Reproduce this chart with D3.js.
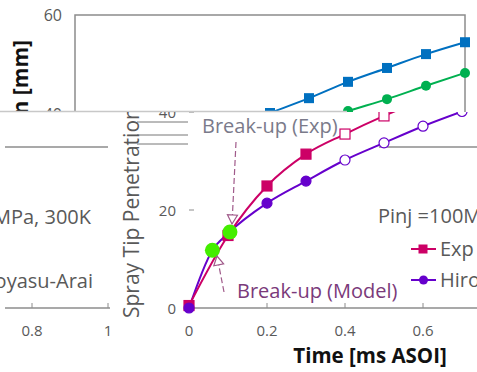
<!DOCTYPE html>
<html>
<head>
<meta charset="utf-8">
<script src="https://cdn.jsdelivr.net/npm/d3@7"></script>
<style>
  body { margin: 0; background: #fff; }
  svg { display: block; font-family: "Open Sans", "Noto Sans", sans-serif; }
</style>
</head>
<body>
<svg id="chart" width="477" height="372"></svg>
<script>
// upper chart (mostly hidden behind the lower one)
var upperTime = [0.4, 0.5, 0.6, 0.7, 0.8, 0.9, 1.0];
var upperBlue = [37.2, 40.2, 43.2, 46.5, 49.3, 52.1, 54.5];
var upperGreenTime = [0.5, 0.6, 0.7, 0.8, 0.9, 1.0];
var upperGreen = [35.3, 38.0, 40.6, 43.0, 45.7, 48.3];
var upperYTicks = [40, 60];

// lower chart
var expTime = [0, 0.1, 0.2, 0.3, 0.4, 0.5, 0.6, 0.7];
var expPen = [0.5, 14.8, 24.9, 31.4, 35.5, 39.2, 42.5, 45.5];
var expHollowFrom = 0.4;
var hiroTime = [0, 0.06, 0.1, 0.2, 0.3, 0.4, 0.5, 0.6, 0.7];
var hiroPen = [0, 11.8, 15.2, 21.4, 25.9, 30.2, 33.7, 37.1, 40.1];
var hiroMarkTime = [0, 0.2, 0.3, 0.4, 0.5, 0.6, 0.7];
var hiroHollowFrom = 0.4;
var breakup = [{t: 0.06, v: 11.8}, {t: 0.105, v: 15.5}];
var lowerXTicks = [0, 0.2, 0.4, 0.6];
var lowerYTicks = [0, 20, 40];

// left remnant chart
var leftXTicks = [0.8, 1];

var svg = d3.select("#chart");
var defs = svg.append("defs");
defs.append("clipPath").attr("id", "topClip")
  .append("rect").attr("x", 0).attr("y", 0).attr("width", 477).attr("height", 112);
defs.append("clipPath").attr("id", "lowClip")
  .append("rect").attr("x", 0).attr("y", 112).attr("width", 477).attr("height", 260);

var grey = "#595959";

// ---------- upper chart ----------
var upper = svg.append("g").attr("clip-path", "url(#topClip)");
var tx = d3.scaleLinear().domain([0, 1]).range([75, 465]);
var ty = d3.scaleLinear().domain([40, 60]).range([114, 15]);

upper.append("rect")
  .attr("x", tx(0)).attr("y", ty(60))
  .attr("width", tx(1) - tx(0)).attr("height", 372)
  .attr("fill", "none").attr("stroke", "#8c8c8c").attr("stroke-width", 1.5);

upper.selectAll("text.ytick").data(upperYTicks).enter().append("text")
  .attr("class", "ytick")
  .attr("x", 62).attr("y", function(d) { return ty(d) + 6; })
  .attr("text-anchor", "end").attr("font-size", 16).attr("fill", grey)
  .text(function(d) { return d; });

upper.append("text")
  .attr("transform", "translate(28,40) rotate(-90)")
  .attr("text-anchor", "end").attr("font-size", 21).attr("font-weight", "bold")
  .attr("fill", "#111")
  .text("Penetration [mm]");

var topLine = d3.line().curve(d3.curveMonotoneX)
  .x(function(d) { return tx(d[0]); }).y(function(d) { return ty(d[1]); });

var blueData = d3.zip(upperTime, upperBlue);
var greenData = d3.zip(upperGreenTime, upperGreen);
upper.append("path").datum(blueData).attr("d", topLine)
  .attr("fill", "none").attr("stroke", "#0070C0").attr("stroke-width", 2);
upper.selectAll("rect.bm").data(blueData).enter().append("rect")
  .attr("class", "bm")
  .attr("x", function(d) { return tx(d[0]) - 5; }).attr("y", function(d) { return ty(d[1]) - 5; })
  .attr("width", 10).attr("height", 10).attr("fill", "#0070C0");
upper.append("path").datum(greenData).attr("d", topLine)
  .attr("fill", "none").attr("stroke", "#00B050").attr("stroke-width", 2);
upper.selectAll("circle.gm").data(greenData).enter().append("circle")
  .attr("class", "gm")
  .attr("cx", function(d) { return tx(d[0]); }).attr("cy", function(d) { return ty(d[1]); })
  .attr("r", 5).attr("fill", "#00B050");

// ---------- lower panel ----------
svg.append("rect").attr("x", 0).attr("y", 112).attr("width", 477).attr("height", 260).attr("fill", "#fff");
svg.append("line").attr("x1", 0).attr("x2", 347).attr("y1", 111.5).attr("y2", 111.5)
  .attr("stroke", "#c8c8c8").attr("stroke-width", 1.5);

var low = svg.append("g").attr("clip-path", "url(#lowClip)");

// left remnant chart
var lx = d3.scaleLinear().domain([0.8, 1]).range([32, 108]);
low.append("line").attr("x1", 5).attr("x2", 110).attr("y1", 308).attr("y2", 308)
  .attr("stroke", "#8c8c8c").attr("stroke-width", 1.5);
low.append("line").attr("x1", 5).attr("x2", 108).attr("y1", 147).attr("y2", 147)
  .attr("stroke", "#8c8c8c").attr("stroke-width", 1.5);
low.selectAll("line.ltick").data(leftXTicks).enter().append("line")
  .attr("class", "ltick")
  .attr("x1", function(d) { return lx(d); }).attr("x2", function(d) { return lx(d); })
  .attr("y1", 303).attr("y2", 308).attr("stroke", "#8c8c8c");
low.selectAll("text.lxt").data(leftXTicks).enter().append("text")
  .attr("class", "lxt")
  .attr("x", function(d) { return lx(d); }).attr("y", 336)
  .attr("text-anchor", "middle").attr("font-size", 15).attr("fill", grey)
  .text(function(d) { return d; });
low.append("text").attr("x", 91).attr("y", 224).attr("text-anchor", "end")
  .attr("font-size", 20).attr("fill", grey).text("Pinj =100MPa, 300K");
low.append("text").attr("x", 93).attr("y", 288).attr("text-anchor", "end")
  .attr("font-size", 20).attr("fill", grey).text("Hiroyasu-Arai");

// stray frame lines
[122, 135, 144].forEach(function(y) {
  low.append("line").attr("x1", 137).attr("x2", 188).attr("y1", y).attr("y2", y)
    .attr("stroke", "#777").attr("stroke-width", 1);
});
low.append("line").attr("x1", 379).attr("x2", 477).attr("y1", 147).attr("y2", 147)
  .attr("stroke", "#8c8c8c").attr("stroke-width", 1.5);

// main lower chart
var x = d3.scaleLinear().domain([0, 0.6]).range([189, 423]);
var y = d3.scaleLinear().domain([0, 20]).range([308, 210]);

low.append("line").attr("x1", x(0)).attr("x2", 477).attr("y1", y(0)).attr("y2", y(0))
  .attr("stroke", "#8c8c8c").attr("stroke-width", 1.5);
low.selectAll("line.xt").data(lowerXTicks.slice(1)).enter().append("line")
  .attr("class", "xt")
  .attr("x1", function(d) { return x(d); }).attr("x2", function(d) { return x(d); })
  .attr("y1", y(0) - 5).attr("y2", y(0)).attr("stroke", "#8c8c8c");
low.selectAll("text.xtl").data(lowerXTicks).enter().append("text")
  .attr("class", "xtl")
  .attr("x", function(d) { return x(d); }).attr("y", 336)
  .attr("text-anchor", "middle").attr("font-size", 15).attr("fill", grey)
  .text(function(d) { return d; });
low.selectAll("line.yt").data(lowerYTicks.slice(1)).enter().append("line")
  .attr("class", "yt")
  .attr("x1", x(0)).attr("x2", x(0) + 5)
  .attr("y1", function(d) { return y(d); }).attr("y2", function(d) { return y(d); })
  .attr("stroke", "#8c8c8c");
low.selectAll("text.ytl").data(lowerYTicks).enter().append("text")
  .attr("class", "ytl")
  .attr("x", 176).attr("y", function(d) { return y(d) + 6; })
  .attr("text-anchor", "end").attr("font-size", 15).attr("fill", grey)
  .text(function(d) { return d; });

low.append("text")
  .attr("transform", "translate(139,318) rotate(-90)")
  .attr("font-size", 21).attr("fill", grey)
  .text("Spray Tip Penetration [mm]");

low.append("text").attr("x", 370).attr("y", 363).attr("text-anchor", "middle")
  .attr("font-size", 20.5).attr("font-weight", "bold").attr("fill", "#111")
  .text("Time [ms ASOI]");

var line = d3.line().curve(d3.curveMonotoneX)
  .x(function(d) { return x(d[0]); }).y(function(d) { return y(d[1]); });

var expData = d3.zip(expTime, expPen);
var hiroData = d3.zip(hiroTime, hiroPen);

low.append("path").datum(hiroData).attr("d", line)
  .attr("fill", "none").attr("stroke", "#6600CC").attr("stroke-width", 2);
low.append("path").datum(expData).attr("d", line)
  .attr("fill", "none").attr("stroke", "#CC0066").attr("stroke-width", 2);

low.selectAll("rect.em").data(expData).enter().append("rect")
  .attr("class", "em")
  .attr("x", function(d) { return x(d[0]) - 5; }).attr("y", function(d) { return y(d[1]) - 5; })
  .attr("width", 10).attr("height", 10)
  .attr("fill", function(d) { return d[0] >= expHollowFrom ? "#fff" : "#CC0066"; })
  .attr("stroke", "#CC0066").attr("stroke-width", 1.2);

var hiroMarks = hiroData.filter(function(d) { return hiroMarkTime.indexOf(d[0]) >= 0; });
low.selectAll("circle.hm").data(hiroMarks).enter().append("circle")
  .attr("class", "hm")
  .attr("cx", function(d) { return x(d[0]); }).attr("cy", function(d) { return y(d[1]); })
  .attr("r", 5)
  .attr("fill", function(d) { return d[0] >= hiroHollowFrom ? "#fff" : "#6600CC"; })
  .attr("stroke", "#6600CC").attr("stroke-width", 1.2);

low.selectAll("circle.bu").data(breakup).enter().append("circle")
  .attr("class", "bu")
  .attr("cx", function(d) { return x(d.t); }).attr("cy", function(d) { return y(d.v); })
  .attr("r", 7.5).attr("fill", "#44EE00");

// annotations
function arrow(x1, y1, x2, y2) {
  var g = low.append("g");
  g.append("line").attr("x1", x1).attr("y1", y1).attr("x2", x2).attr("y2", y2)
    .attr("stroke", "#a05a8a").attr("stroke-width", 1.2).attr("stroke-dasharray", "6,3");
  var a = Math.atan2(y2 - y1, x2 - x1), L = 9, W = 5;
  var bx = x2 - L * Math.cos(a), by = y2 - L * Math.sin(a);
  var pts = [[x2, y2],
    [bx + W * Math.sin(a), by - W * Math.cos(a)],
    [bx - W * Math.sin(a), by + W * Math.cos(a)]];
  g.append("path").attr("d", "M" + pts.join("L") + "Z")
    .attr("fill", "#fff").attr("stroke", "#a05a8a").attr("stroke-width", 1.2);
}
arrow(236, 142, 232, 224);
arrow(224, 292, 217, 256);

low.append("text").attr("x", 202).attr("y", 133)
  .attr("font-size", 20).attr("fill", "#7a7a8a").text("Break-up (Exp)");
low.append("text").attr("x", 237).attr("y", 298)
  .attr("font-size", 20).attr("fill", "#7a3a7a").text("Break-up (Model)");

// legend
low.append("text").attr("x", 378).attr("y", 223)
  .attr("font-size", 20).attr("fill", grey).text("Pinj =100MPa");
var legend = [
  {name: "Exp", color: "#CC0066", shape: "square", y: 249},
  {name: "Hiroyasu-Arai", color: "#6600CC", shape: "circle", y: 280}
];
var lg = low.selectAll("g.lg").data(legend).enter().append("g").attr("class", "lg");
lg.append("line").attr("x1", 411).attr("x2", 436)
  .attr("y1", function(d) { return d.y; }).attr("y2", function(d) { return d.y; })
  .attr("stroke", function(d) { return d.color; }).attr("stroke-width", 2);
lg.filter(function(d) { return d.shape === "square"; }).append("rect")
  .attr("x", 418.5).attr("y", function(d) { return d.y - 4.5; })
  .attr("width", 9).attr("height", 9).attr("fill", function(d) { return d.color; });
lg.filter(function(d) { return d.shape === "circle"; }).append("circle")
  .attr("cx", 423.5).attr("cy", function(d) { return d.y; })
  .attr("r", 4.5).attr("fill", function(d) { return d.color; });
lg.append("text").attr("x", 440).attr("y", function(d) { return d.y + 7; })
  .attr("font-size", 20).attr("fill", grey).text(function(d) { return d.name; });
</script>
</body>
</html>
